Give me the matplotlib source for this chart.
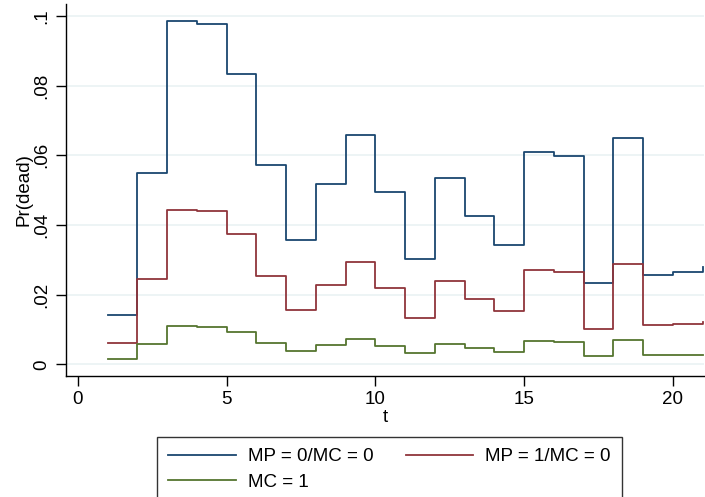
import matplotlib
matplotlib.use("Agg")
import matplotlib.pyplot as plt

plt.rcParams['font.family'] = ['Liberation Sans', 'DejaVu Sans']

t = list(range(1, 22))
mp0_mc0 = [0.0141, 0.0548, 0.0984, 0.0978, 0.0833, 0.0571, 0.0356, 0.0516, 0.0658, 0.0495,
           0.0302, 0.0536, 0.0425, 0.0343, 0.0609, 0.0598, 0.0232, 0.0649, 0.0256, 0.0266, 0.0278]
mp1_mc0 = [0.0061, 0.0244, 0.0443, 0.0441, 0.0374, 0.0254, 0.0157, 0.0228, 0.0293, 0.0220,
           0.0134, 0.0239, 0.0188, 0.0152, 0.0271, 0.0266, 0.0102, 0.0289, 0.0112, 0.0116, 0.0120]
mc1 = [0.0015, 0.0059, 0.0109, 0.0108, 0.0092, 0.0062, 0.0038, 0.0055, 0.0073, 0.0053,
       0.0032, 0.0058, 0.0047, 0.0036, 0.0067, 0.0065, 0.0025, 0.0071, 0.0027, 0.0028, 0.0028]

labels = ["MP = 0/MC = 0", "MP = 1/MC = 0", "MC = 1"]
colors = ["#1a476f", "#90353b", "#55752f"]
yticks = [0, 0.02, 0.04, 0.06, 0.08, 0.1]
yticklabels = ["0", ".02", ".04", ".06", ".08", ".1"]
xticks = [0, 5, 10, 15, 20]

W, H = 705, 497
fig = plt.figure(figsize=(W / 100, H / 100), dpi=100)
ax = fig.add_axes([66 / W, 1 - 376 / H, (704 - 66) / W, (376 - 4) / H])

handles = []
for y, c, lab in zip([mp0_mc0, mp1_mc0, mc1], colors, labels):
    h, = ax.step(t, y, where='post', color=c, lw=1.3, label=lab)
    handles.append(h)

ax.set_xlim(-0.4, 21.05)
ax.set_ylim(-0.00336, 0.1034)
ax.set_yticks(yticks)
ax.set_yticklabels(yticklabels, rotation=90, va='center')
ax.set_xticks(xticks)
ax.tick_params(axis='both', direction='out', length=7, width=1, labelsize=13.5, colors='black')
ax.tick_params(axis='y', pad=4)
ax.grid(axis='y', color='#eaf2f3', lw=1.2)
ax.set_axisbelow(True)
for s in ['top', 'right']:
    ax.spines[s].set_visible(False)
for s in ['left', 'bottom']:
    ax.spines[s].set_linewidth(1.0)
ax.set_xlabel("t", fontsize=13.5, labelpad=1)
ax.set_ylabel("Pr(dead)", fontsize=13.5, labelpad=1)

# row-major order: MP0, MP1 on first row, MC1 on second
order = [0, 2, 1]
leg = fig.legend([handles[i] for i in order], [labels[i] for i in order],
                 loc='upper left', bbox_to_anchor=(157 / W, 0, 465 / W, 1 - 437 / H),
                 mode='expand', borderaxespad=0,
                 ncol=2, fontsize=13.5, frameon=True, fancybox=False, edgecolor='black',
                 handlelength=3.6, handletextpad=0.65, columnspacing=1.5, borderpad=0.6,
                 labelspacing=0.45)
leg.get_frame().set_linewidth(1.0)

fig.savefig("out.png", dpi=100)
